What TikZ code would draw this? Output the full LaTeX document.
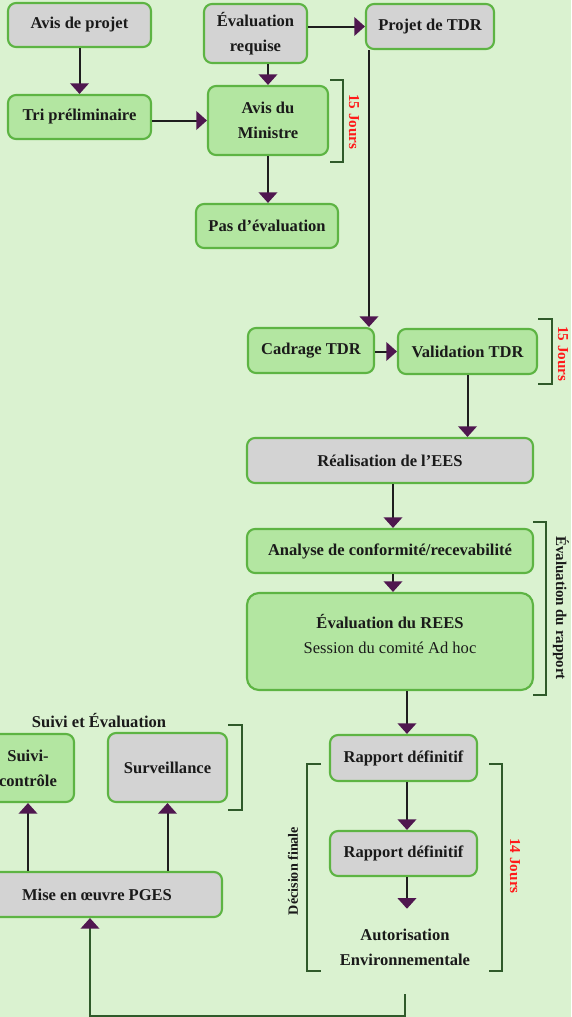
\documentclass[tikz,border=0pt]{standalone}
\usepackage{fontspec}
\setmainfont{Liberation Serif}
\usetikzlibrary{arrows.meta}
\definecolor{bgc}{HTML}{DAF2D0}
\definecolor{greyc}{HTML}{D3D3D3}
\definecolor{greenc}{HTML}{B3E6A1}
\definecolor{bordc}{HTML}{5DB443}
\definecolor{tipc}{HTML}{4F174F}
\definecolor{linec}{HTML}{1E1E1E}
\definecolor{brkc}{HTML}{2F5A2A}
\definecolor{txtc}{HTML}{1A1A1A}
\definecolor{redc}{HTML}{FF1A1A}
\tikzset{
  box/.style={draw=bordc, line width=1.6pt, rounded corners=6pt, text=txtc, align=center, inner sep=2pt,
    font=\bfseries\fontsize{12.4}{18.75}\selectfont},
  plain/.style={text=txtc, align=center, inner sep=2pt, font=\bfseries\fontsize{12.4}{18.75}\selectfont},
  redlbl/.style={text=redc, inner sep=1pt, font=\bfseries\fontsize{11.4}{13}\selectfont},
  sidelbl/.style={text=txtc, inner sep=1pt, font=\bfseries\fontsize{11.2}{13}\selectfont},
  decflbl/.style={text=txtc, inner sep=1pt, font=\bfseries\fontsize{10.6}{13}\selectfont},
  brk/.style={draw=brkc, line width=1.5pt},
  conn/.style={draw=linec, line width=1.5pt, -{Triangle[width=14pt,length=8pt,color=tipc,fill=tipc]}},
  conng/.style={draw=brkc, line width=1.5pt, -{Triangle[width=14pt,length=8pt,color=tipc,fill=tipc]}}
}
\begin{document}
\begin{tikzpicture}[x=0.75pt,y=-0.75pt]
\path[use as bounding box] (0,0) rectangle (571,1017);
\clip (0,0) rectangle (571,1017);
\fill[bgc] (0,0) rectangle (571,1017);

% nodes
\node[box, fill=greyc, minimum width=107.25pt, minimum height=33pt] (avis) at (79.5,25) {Avis de projet};
\node[box, fill=greyc, minimum width=77.25pt, minimum height=44.25pt] (evr) at (255.5,33.5) {Évaluation\\requise};
\node[box, fill=greyc, minimum width=96pt, minimum height=33.75pt] (ptdr) at (430,26.5) {Projet de TDR};
\node[box, fill=greenc, minimum width=107.25pt, minimum height=33pt] (tri) at (79.5,117) {Tri préliminaire};
\node[box, fill=greenc, minimum width=90pt, minimum height=51.75pt] (min) at (268,120.5) {Avis du\\Ministre};
\node[box, fill=greenc, minimum width=106.5pt, minimum height=33pt] (pas) at (267,226) {Pas d’évaluation};
\node[box, fill=greenc, minimum width=94.5pt, minimum height=33.75pt] (cad) at (311,350.5) {Cadrage TDR};
\node[box, fill=greenc, minimum width=104.25pt, minimum height=33.75pt] (val) at (467.5,351.5) {Validation TDR};
\node[box, fill=greyc, minimum width=214.5pt, minimum height=33.75pt] (real) at (390,460.5) {Réalisation de l’EES};
\node[box, fill=greenc, minimum width=214.5pt, minimum height=33pt] (ana) at (390,551) {Analyse de conformité/recevabilité};
\node[box, fill=greenc, minimum width=214.5pt, minimum height=72.75pt, rounded corners=9pt] (rees) at (390,641.5)
  {\raisebox{1.5pt}[0pt][0pt]{\begin{tabular}{@{}c@{}}Évaluation du REES\\ {\mdseries Session du comité Ad hoc}\end{tabular}}};
\node[box, fill=greyc, minimum width=110.25pt, minimum height=34.5pt] (rap1) at (403.5,758) {Rapport définitif};
\node[box, fill=greyc, minimum width=110.25pt, minimum height=33.75pt] (rap2) at (403.5,853.5) {Rapport définitif};
\node[plain, minimum height=57pt] (auto) at (405,947) {Autorisation\\Environnementale};
\node[box, fill=greenc, minimum width=69pt, minimum height=51pt] (suivi) at (28,768) {Suivi-\\contrôle};
\node[box, fill=greyc, minimum width=89.25pt, minimum height=51.75pt] (surv) at (167.5,767.5) {Surveillance};
\node[box, fill=greyc, minimum width=187.5pt, minimum height=33.75pt] (mise) at (97,894.5) {Mise en œuvre PGES};
\node[plain] (setitle) at (99,720) {Suivi et Évaluation};

% side labels
\node[redlbl, rotate=-90] (j1) at (354,122) {15 Jours};
\node[redlbl, rotate=-90] (j2) at (563,354) {15 Jours};
\node[sidelbl, rotate=-90] (evrap) at (561,608) {Évaluation du rapport};
\node[decflbl, rotate=90] (decf) at (293,871) {Décision finale};
\node[redlbl, rotate=-90] (j3) at (515,866) {14 Jours};

% brackets
\draw[brk] (330,80) -- (343,80) -- (343,162) -- (330,162);
\draw[brk] (538,319) -- (552,319) -- (552,384) -- (538,384);
\draw[brk] (533,522) -- (546,522) -- (546,695) -- (533,695);
\draw[brk] (321,764) -- (307,764) -- (307,971) -- (321,971);
\draw[brk] (489,764) -- (502,764) -- (502,971) -- (489,971);
\draw[brk] (228,725) -- (242,725) -- (242,810) -- (228,810);

% connectors
\draw[conn] (avis.south) -- (tri.north);
\draw[conn] (tri.east |- min.west) -- (min.west);
\draw[conn] (min.north |- evr.south) -- (min.north);
\draw[conn] (evr.east |- ptdr.west) -- (ptdr.west);
\draw[conn] (min.south) -- (min.south |- pas.north);
\draw[conn] ([xshift=3pt]ptdr.south west) -- ([xshift=3pt]ptdr.south west |- cad.north);
\draw[conn] (cad.east |- val.west) -- (val.west);
\draw[conn] (val.south) -- (val.south |- real.north);
\draw[conn] ([xshift=2.25pt]real.south) -- ([xshift=2.25pt]ana.north);
\draw[conn] ([xshift=2.25pt]ana.south) -- ([xshift=2.25pt]rees.north);
\draw[conn] ([xshift=2.6pt]rap1.north |- rees.south) -- ([xshift=2.6pt]rap1.north);
\draw[conn] ([xshift=2.6pt]rap1.south) -- ([xshift=2.6pt]rap2.north);
\draw[conn] ([xshift=2.6pt]rap2.south) -- ([xshift=2.6pt]rap2.south |- auto.north);
\coordinate (botstart) at (405,994);
\coordinate (botcorner) at (90,1016);
\draw[conng] (botstart) |- (botcorner) -- ([xshift=-5.25pt]mise.south);
\draw[conn] (suivi.south |- mise.north) -- (suivi.south);
\draw[conn] (surv.south |- mise.north) -- (surv.south);
\end{tikzpicture}
\end{document}
